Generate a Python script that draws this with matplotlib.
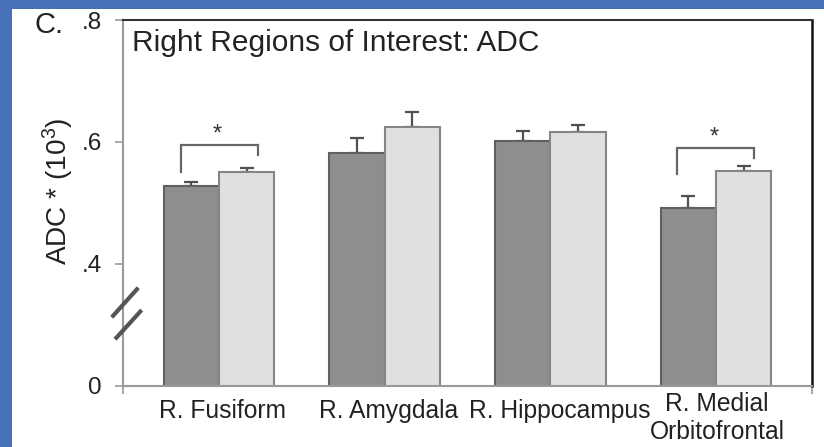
import matplotlib
matplotlib.use("Agg")
import matplotlib.pyplot as plt
from matplotlib.patches import Rectangle
from matplotlib.transforms import ScaledTranslation
import numpy as np

plt.rcParams['font.family'] = ['Liberation Sans', 'DejaVu Sans']
plt.rcParams['mathtext.fontset'] = 'custom'
plt.rcParams['mathtext.rm'] = 'Liberation Sans'
plt.rcParams['mathtext.it'] = 'Liberation Sans'

# ---- data ----
categories = ["R. Fusiform", "R. Amygdala", "R. Hippocampus", "R. Medial\nOrbitofrontal"]
group1_values = [0.527, 0.581, 0.602, 0.492]   # dark bars
group1_err = [0.008, 0.025, 0.016, 0.020]
group2_values = [0.551, 0.624, 0.616, 0.552]   # light bars
group2_err = [0.006, 0.025, 0.012, 0.009]
ytick_values = [0.2, 0.4, 0.6, 0.8]
ytick_labels = ["0", ".4", ".6", ".8"]
significant = [0, 3]

W, H = 824, 447
fig = plt.figure(figsize=(W / 100, H / 100), dpi=100, facecolor='#4670b8')
fig.patches.append(Rectangle((12 / W, 0), 1, (H - 9) / H, transform=fig.transFigure,
                             facecolor='white', edgecolor='none', zorder=-10))

ax_l, ax_r, ax_b, ax_t = 123.5, 812, 385.7, 20
ax = fig.add_axes([ax_l / W, 1 - ax_b / H, (ax_r - ax_l) / W, (ax_b - ax_t) / H])

x = np.arange(len(categories))
bw = 0.334
dark_col, dark_edge = '#8e8e8e', '#606060'
light_col, light_edge = '#e0e0e0', '#858585'

ax.bar(x - bw / 2, group1_values, bw, color=dark_col, edgecolor=dark_edge, linewidth=1.5, zorder=2)
ax.bar(x + bw / 2, group2_values, bw, color=light_col, edgecolor=light_edge, linewidth=1.5, zorder=2)
ax.errorbar(x - bw / 2, group1_values, yerr=[np.zeros(len(x)), group1_err], fmt='none',
            ecolor='#505050', elinewidth=1.6, capsize=5, capthick=1.6, zorder=1)
ax.errorbar(x + bw / 2, group2_values, yerr=[np.zeros(len(x)), group2_err], fmt='none',
            ecolor='#505050', elinewidth=1.6, capsize=5, capthick=1.6, zorder=1)

# significance brackets
brackets = {0: (-0.229, 0.235, 0.5954, 0.5512, 0.578, 0.624),
            3: (-0.237, 0.231, 0.590, 0.548, 0.574, 0.619)}
for i in significant:
    lx, rx, top, lb, rb, sy = brackets[i]
    ax.plot([i + lx, i + lx, i + rx, i + rx], [lb, top, top, rb], color='#666666',
            lw=1.6, solid_joinstyle='miter', zorder=3)
    ax.text(i - 0.01, sy - 0.022, '*', ha='center', va='baseline', fontsize=17, color='#333333')

ax.set_xlim(-0.576, 3.58)
ax.set_ylim(0.2, 0.8)
ax.set_yticks(ytick_values)
ax.set_yticklabels(ytick_labels)
ax.set_xticks(x)
ax.set_xticklabels(categories)
ax.set_xticks([-0.576, 3.58], minor=True)
ax.tick_params(axis='x', which='major', length=0, pad=9.5, labelsize=17.7, labelcolor='#222222')
ax.tick_params(axis='x', which='minor', length=6, width=1.2, color='#999999')
ax.tick_params(axis='y', length=6, width=1.2, color='#999999', pad=9.5, labelsize=17.5,
               labelcolor='#222222')
label_shift_px = [4, 4, 9, 1]
for lab, dx in zip(ax.get_xticklabels(), label_shift_px):
    lab.set_linespacing(1.25)
    lab.set_transform(lab.get_transform() + ScaledTranslation(dx / 100, 0, fig.dpi_scale_trans))
ax.get_xticklabels()[3].set_y(0.02)

for s in ['left', 'bottom']:
    ax.spines[s].set_color('#999999')
    ax.spines[s].set_linewidth(1.5)
ax.spines['top'].set_color('#333333')
ax.spines['top'].set_linewidth(1.5)
ax.spines['right'].set_color('#111111')
ax.spines['right'].set_linewidth(1.8)

# axis break marks
for (x1, y1, x2, y2) in [(-0.0171, 0.187, 0.0215, 0.268), (-0.0123, 0.127, 0.0264, 0.207)]:
    ax.plot([x1, x2], [y1, y2], transform=ax.transAxes, color='#555555', lw=3,
            solid_capstyle='butt', clip_on=False, zorder=5)

ax.text(0.013, 0.916, 'Right Regions of Interest: ADC', transform=ax.transAxes,
        ha='left', va='baseline', fontsize=21.5, color='#222222')

fig.text(35 / W, 1 - 33.3 / H, 'C.', ha='left', va='baseline', fontsize=21, color='#222222')
fig.text(58.5 / W, 1 - 191 / H, 'ADC * (10$^3$)', rotation=90, ha='center', va='center',
         fontsize=20.2, color='#222222')

fig.savefig('out.png', dpi=100, facecolor=fig.get_facecolor())
